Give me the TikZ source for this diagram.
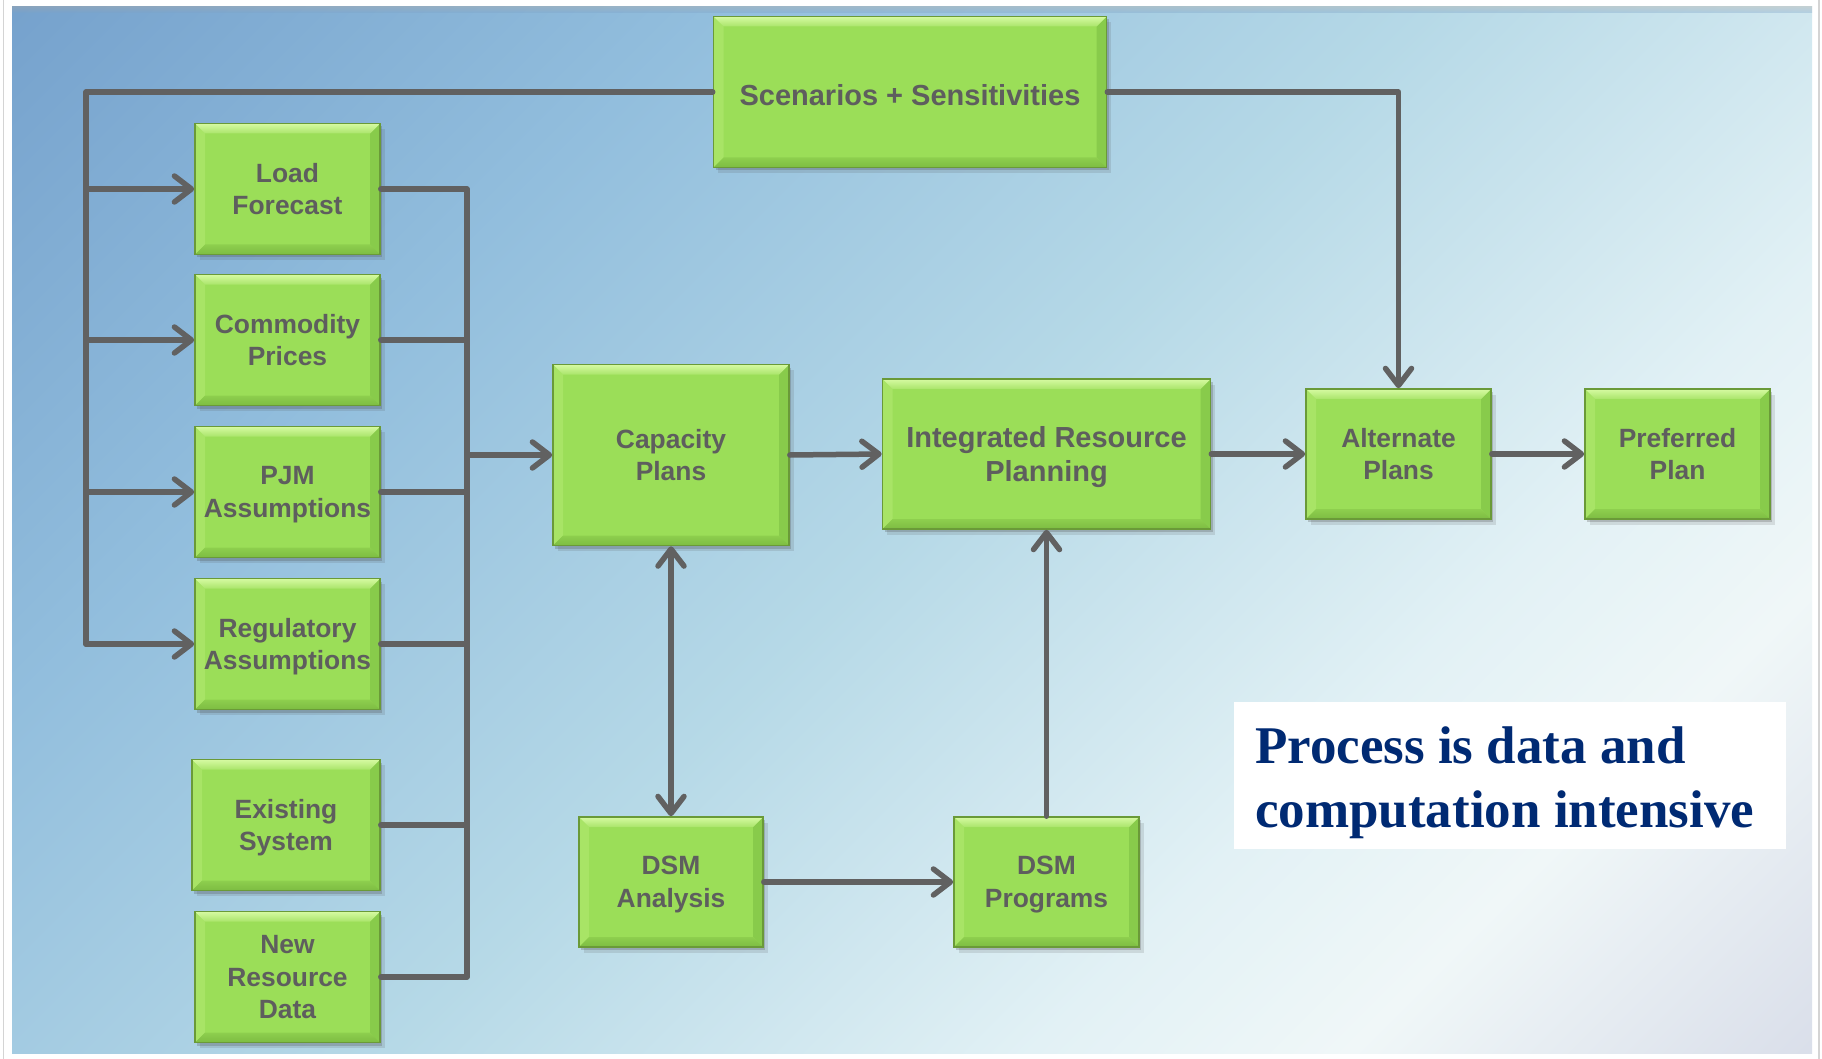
\documentclass[tikz,border=0pt]{standalone}
\usepackage{fontspec}
\setmainfont{Liberation Sans}
\newfontfamily\notefont{Liberation Serif}
\usetikzlibrary{arrows.meta,shadows,calc}

\definecolor{bgA}{HTML}{76A2CD}
\definecolor{bgB}{HTML}{92BEDD}
\definecolor{bgC}{HTML}{B6D9E7}
\definecolor{bgD}{HTML}{E2F1F5}
\definecolor{bgE}{HTML}{F0F7F8}
\definecolor{bgF}{HTML}{DADFEA}
\definecolor{gfill}{HTML}{9BDE58}
\definecolor{gborder}{HTML}{6A9A38}
\definecolor{gtop}{HTML}{D6FAA2}
\definecolor{gbot}{HTML}{7DBC42}
\definecolor{gleft}{HTML}{A8E466}
\definecolor{gright}{HTML}{88CB4B}
\definecolor{txtgray}{HTML}{5E5E5E}
\definecolor{wire}{HTML}{616161}
\definecolor{navy}{HTML}{002A73}
\definecolor{edgegray}{HTML}{D4D4D4}

\pgfdeclarehorizontalshading{panelshade}{100bp}{%
  color(0bp)=(bgA); color(14.6bp)=(bgA); color(32bp)=(bgB);
  color(50bp)=(bgC); color(66bp)=(bgD); color(74bp)=(bgE);
  color(85.4bp)=(bgF); color(100bp)=(bgF)}

\tikzset{
  gbox/.style={
    draw=gborder, line width=1.6pt, fill=gfill,
    minimum width=185pt, minimum height=131pt, inner sep=0pt,
    align=center, text=txtgray, text depth=0pt,
    font=\bfseries\fontsize{26.4}{32.5}\selectfont,
    execute at begin node={\rule{0pt}{27pt}},
    drop shadow={shadow xshift=2pt, shadow yshift=-3pt, opacity=0.25, fill=black!70},
    drop shadow={shadow xshift=4.5pt, shadow yshift=-5.5pt, opacity=0.15, fill=black!70},
    path picture={
      \coordinate (pnw) at (path picture bounding box.north west);
      \coordinate (pne) at (path picture bounding box.north east);
      \coordinate (psw) at (path picture bounding box.south west);
      \coordinate (pse) at (path picture bounding box.south east);
      \fill[gleft] (pnw) -- ([shift={(10pt,-10pt)}]pnw) -- ([shift={(10pt,10pt)}]psw) -- (psw) -- cycle;
      \fill[gright] (pne) -- ([shift={(-10pt,-10pt)}]pne) -- ([shift={(-10pt,10pt)}]pse) -- (pse) -- cycle;
      \shade[top color=gtop, bottom color=gfill!75!gtop]
        (pnw) -- (pne) -- ([shift={(-10pt,-10pt)}]pne) -- ([shift={(10pt,-10pt)}]pnw) -- cycle;
      \shade[top color=gfill!55!gbot, bottom color=gbot]
        (psw) -- (pse) -- ([shift={(-10pt,10pt)}]pse) -- ([shift={(10pt,10pt)}]psw) -- cycle;
    }},
  bigfont/.style={font=\bfseries\fontsize{29}{33.7}\selectfont,
    execute at begin node={\rule{0pt}{26.5pt}}},
  wireline/.style={draw=wire, line width=5.5pt, line join=round, line cap=round},
  flow/.style={wireline, -{Straight Barb[length=17pt, width=26pt, round]}},
  biflow/.style={wireline, {Straight Barb[length=17pt, width=26pt, round]}-{Straight Barb[length=17pt, width=26pt, round]}},
}

\begin{document}
\begin{tikzpicture}[x=1pt, y=-1pt]
  \useasboundingbox (0,0) rectangle (1822,1059);
  \fill[white] (0,0) rectangle (1822,1059);
  \draw[edgegray, line width=1.5pt] (3.5,0) -- (3.5,1059);
  \draw[edgegray, line width=1.5pt] (1819,0) -- (1819,1059);

  % shaded panel
  \shade[shading=panelshade, shading angle=-45] (12,7) rectangle (1812,1053);
  \shade[top color=black!35, bottom color=bgA, opacity=0.35] (12,7) rectangle (1812,13);

  % boxes
  \node[gbox, bigfont, minimum width=393pt, minimum height=151pt] (scen) at (910,92) {Scenarios + Sensitivities};
  \node[gbox] (load) at (287.5,189) {Load\\Forecast};
  \node[gbox] (comm) at (287.5,340) {Commodity\\Prices};
  \node[gbox] (pjm)  at (287.5,492) {PJM\\Assumptions};
  \node[gbox] (reg)  at (287.5,644) {Regulatory\\Assumptions};
  \node[gbox, minimum width=188pt] (exist) at (286,825) {Existing\\System};
  \node[gbox] (newres) at (287.5,977) {New\\Resource\\Data};

  \node[gbox, minimum width=236pt, minimum height=181pt] (cap) at (671,455) {Capacity\\Plans};
  \node[gbox, bigfont, minimum width=328pt, minimum height=150pt] (irp) at (1046.5,454) {Integrated Resource\\Planning};
  \node[gbox, minimum height=130pt] (alt)  at (1398.5,454) {Alternate\\Plans};
  \node[gbox, minimum height=130pt] (pref) at (1677.5,454) {Preferred\\Plan};
  \node[gbox, minimum width=184pt, minimum height=130pt] (dsma) at (671,882) {DSM\\Analysis};
  \node[gbox, minimum height=130pt] (dsmp) at (1046.5,882) {DSM\\Programs};

  % note
  \node[fill=white, minimum width=552pt, minimum height=147pt, inner sep=0pt] (note) at (1510,775.5) {};
  \node[anchor=north west, align=left, text=navy, inner sep=0pt,
        font=\notefont\bfseries\fontsize{53}{64}\selectfont] (notetext) at (1255,727)
        {Process is data and\\computation intensive};

  % bus coordinates
  \coordinate (lbus) at (86,644);
  \coordinate (rbus) at (467,977);

  % scenario feed to inputs
  \draw[wireline] (scen.west) -| (lbus);
  \foreach \b in {load,comm,pjm,reg}
    \draw[flow] (lbus |- \b.west) -- (\b.west);

  % inputs collected into capacity plans
  \draw[wireline] (load.east) -| (rbus) -- (newres.east);
  \foreach \b in {comm,pjm,reg,exist}
    \draw[wireline] (\b.east) -- (\b.east -| rbus);
  \draw[flow] (cap.west -| rbus) -- (cap.west);

  % main chain
  \draw[flow] (cap.east) -- (irp.west);
  \draw[flow] (irp.east) -- (alt.west);
  \draw[flow] (alt.east) -- (pref.west);
  \draw[flow] (scen.east) -| (alt.north);

  % DSM loop
  \draw[biflow] (cap.south) -- (dsma.north);
  \draw[flow] (dsma.east) -- (dsmp.west);
  \draw[flow] (dsmp.north) -- (irp.south);
\end{tikzpicture}
\end{document}
